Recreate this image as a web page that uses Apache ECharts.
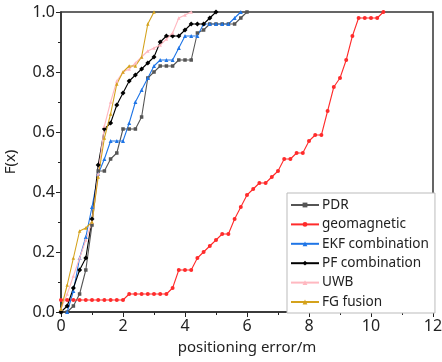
<!DOCTYPE html>
<html>
<head>
    <meta charset="utf-8">
    <title>CDF of positioning error</title>
    <script src="https://cdn.jsdelivr.net/npm/echarts@6/dist/echarts.min.js"></script>
    <style>
        * {
            margin: 0;
            padding: 0
        }

        html, body {
            width: 100%;
            height: 100%;
            background: #fff;
        }

        #main {
            width: 442px;
            height: 362px;
        }
    </style>
</head>
<body>
<div id="main"></div>
<script type="text/javascript">
    // 数据: 各方法的误差(m)与累计概率 F(x)
    var pdrErr = [0, 0.2, 0.4, 0.6, 0.8, 1.0, 1.2, 1.4, 1.6, 1.8, 2.0, 2.2, 2.4, 2.6, 2.8, 3.0, 3.2, 3.4, 3.6, 3.8, 4.0, 4.2, 4.4, 4.6, 4.8, 5.0, 5.2, 5.4, 5.6, 5.8, 6.0];
    var pdrF = [0, 0, 0.02, 0.06, 0.14, 0.29, 0.47, 0.47, 0.51, 0.53, 0.61, 0.61, 0.61, 0.65, 0.78, 0.80, 0.82, 0.82, 0.82, 0.84, 0.84, 0.84, 0.93, 0.94, 0.96, 0.96, 0.96, 0.96, 0.96, 0.98, 1.0];

    var geoErr = [0, 0.2, 0.4, 0.6, 0.8, 1.0, 1.2, 1.4, 1.6, 1.8, 2.0, 2.2, 2.4, 2.6, 2.8, 3.0, 3.2, 3.4, 3.6, 3.8, 4.0, 4.2, 4.4, 4.6, 4.8, 5.0, 5.2, 5.4, 5.6, 5.8, 6.0, 6.2, 6.4, 6.6, 6.8, 7.0, 7.2, 7.4, 7.6, 7.8, 8.0, 8.2, 8.4, 8.6, 8.8, 9.0, 9.2, 9.4, 9.6, 9.8, 10.0, 10.2, 10.4];
    var geoF = [0.04, 0.04, 0.04, 0.04, 0.04, 0.04, 0.04, 0.04, 0.04, 0.04, 0.04, 0.06, 0.06, 0.06, 0.06, 0.06, 0.06, 0.06, 0.08, 0.14, 0.14, 0.14, 0.18, 0.20, 0.22, 0.24, 0.26, 0.26, 0.31, 0.35, 0.39, 0.41, 0.43, 0.43, 0.45, 0.47, 0.51, 0.51, 0.53, 0.53, 0.57, 0.59, 0.59, 0.67, 0.75, 0.78, 0.84, 0.92, 0.98, 0.98, 0.98, 0.98, 1.0];

    var ekfErr = [0.2, 0.4, 0.6, 0.8, 1.0, 1.2, 1.4, 1.6, 1.8, 2.0, 2.2, 2.4, 2.6, 2.8, 3.0, 3.2, 3.4, 3.6, 3.8, 4.0, 4.2, 4.4, 4.6, 4.8, 5.0, 5.2, 5.4, 5.6, 5.8];
    var ekfF = [0, 0.07, 0.18, 0.25, 0.35, 0.46, 0.51, 0.57, 0.57, 0.57, 0.63, 0.70, 0.74, 0.78, 0.82, 0.84, 0.84, 0.84, 0.88, 0.92, 0.92, 0.92, 0.96, 0.96, 0.96, 0.96, 0.96, 0.98, 1.0];

    var pfErr = [0, 0.2, 0.4, 0.6, 0.8, 1.0, 1.2, 1.4, 1.6, 1.8, 2.0, 2.2, 2.4, 2.6, 2.8, 3.0, 3.2, 3.4, 3.6, 3.8, 4.0, 4.2, 4.4, 4.6, 4.8, 5.0];
    var pfF = [0, 0.02, 0.08, 0.14, 0.18, 0.31, 0.49, 0.61, 0.63, 0.69, 0.73, 0.77, 0.79, 0.81, 0.83, 0.85, 0.90, 0.92, 0.92, 0.92, 0.94, 0.96, 0.96, 0.96, 0.98, 1.0];

    var uwbErr = [0, 0.2, 0.4, 0.6, 0.8, 1.0, 1.2, 1.4, 1.6, 1.8, 2.0, 2.2, 2.4, 2.6, 2.8, 3.0, 3.2, 3.4, 3.6, 3.8, 4.0, 4.2];
    var uwbF = [0.01, 0.06, 0.12, 0.18, 0.24, 0.30, 0.46, 0.62, 0.70, 0.77, 0.80, 0.81, 0.83, 0.85, 0.87, 0.88, 0.89, 0.91, 0.93, 0.98, 0.99, 1.0];

    var fgErr = [0, 0.2, 0.4, 0.6, 0.8, 1.0, 1.2, 1.4, 1.6, 1.8, 2.0, 2.2, 2.4, 2.6, 2.8, 3.0];
    var fgF = [0.01, 0.09, 0.18, 0.27, 0.28, 0.30, 0.45, 0.58, 0.66, 0.76, 0.80, 0.82, 0.82, 0.85, 0.96, 1.0];

    function pairs(xs, ys) {
        var out = [];
        for (var i = 0; i < xs.length; i++) {
            out.push([xs[i], ys[i]]);
        }
        return out;
    }

    function line(name, xs, ys, color, symbol, size) {
        return {
            name: name,
            type: 'line',
            data: pairs(xs, ys),
            symbol: symbol,
            symbolSize: size,
            lineStyle: {color: color, width: 1.1},
            itemStyle: {color: color},
            clip: true,
            z: 3
        };
    }

    var myChart = echarts.init(document.getElementById('main'));
    myChart.setOption({
        animation: false,
        textStyle: {fontFamily: 'Noto Sans'},
        grid: {left: 61, right: 9, top: 12, bottom: 50, outerBoundsMode: 'none'},
        legend: {
            orient: 'vertical',
            left: 287,
            top: 193,
            backgroundColor: '#fff',
            borderColor: '#bbb',
            borderWidth: 1,
            padding: [5, 6, 4, 3],
            itemWidth: 28,
            itemHeight: 6,
            itemGap: 5.4,
            textStyle: {fontSize: 13.6, lineHeight: 13, color: '#222', fontFamily: 'Noto Sans', padding: [0, 0, 0, -2]},
            data: ['PDR', 'geomagnetic', 'EKF combination', 'PF combination', 'UWB', 'FG fusion']
        },
        xAxis: {
            type: 'value',
            min: 0,
            max: 12,
            interval: 2,
            name: 'positioning error/m',
            nameLocation: 'middle',
            nameGap: 28,
            nameTextStyle: {fontSize: 15, color: '#222'},
            axisLine: {lineStyle: {color: '#222', width: 1.5}},
            axisTick: {show: true, inside: false, length: 5, lineStyle: {color: '#222'}},
            minorTick: {show: true, splitNumber: 2, length: 3, lineStyle: {color: '#222'}},
            axisLabel: {fontSize: 16, color: '#222', margin: 6},
            splitLine: {show: false}
        },
        yAxis: {
            type: 'value',
            min: 0,
            max: 1,
            interval: 0.2,
            name: 'F(x)',
            nameLocation: 'middle',
            nameGap: 43,
            nameTextStyle: {fontSize: 15, color: '#222'},
            axisLine: {show: true, lineStyle: {color: '#222', width: 1.5}},
            axisTick: {show: true, inside: false, length: 5, lineStyle: {color: '#222'}},
            minorTick: {show: true, splitNumber: 2, length: 3, lineStyle: {color: '#222'}},
            axisLabel: {fontSize: 16, color: '#222', margin: 6,
                formatter: function (v) { return v.toFixed(1); }},
            splitLine: {show: false}
        },
        graphic: [{
            type: 'rect',
            shape: {x: 61, y: 12, width: 372, height: 300},
            style: {fill: 'none', stroke: '#333', lineWidth: 1.5},
            silent: true,
            z: 1
        }],
        series: [
            line('PDR', pdrErr, pdrF, '#555555', 'rect', 3.5),
            line('geomagnetic', geoErr, geoF, '#ff2b2b', 'circle', 4),
            line('EKF combination', ekfErr, ekfF, '#1f75e6', 'triangle', 4),
            line('PF combination', pfErr, pfF, '#000000', 'diamond', 5),
            line('UWB', uwbErr, uwbF, '#ffb8c0', 'triangle', 3.5),
            line('FG fusion', fgErr, fgF, '#d4a21c', 'triangle', 3.5)
        ]
    });
</script>
</body>
</html>
